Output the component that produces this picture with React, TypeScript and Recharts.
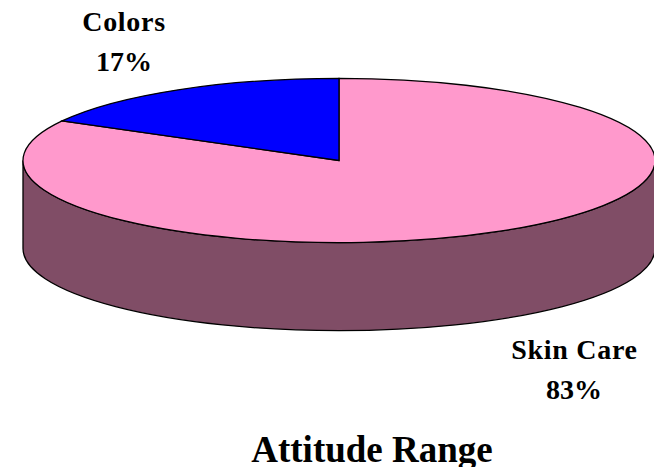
import { Pie, PieChart } from 'recharts'

const categories = ['Skin Care', 'Colors']
const shares = [83, 17]
const topColors = ['#FF99CC', '#0000FF']
const wallColors = ['#804D66', '#000080']

const chartData = categories.map((name, i) => ({
  name,
  value: shares[i],
  fill: topColors[i],
  wall: wallColors[i],
}))

// Recharts has no 3D pie: squash the circle and extrude it by hand
const SQUASH = 0.26
const DEPTH = 88

type SectorProps = {
  cx: number
  cy: number
  outerRadius: number
  startAngle: number
  endAngle: number
  fill: string
  payload: { wall: string }
}

const pointAt = (p: SectorProps, deg: number, dy = 0) => {
  const rad = (deg * Math.PI) / 180
  return {
    x: p.cx + p.outerRadius * Math.cos(rad),
    y: p.cy - p.outerRadius * SQUASH * Math.sin(rad) + dy,
  }
}

function TopSector(props: unknown) {
  const p = props as SectorProps
  const rx = p.outerRadius
  const ry = rx * SQUASH
  const a = pointAt(p, p.startAngle)
  const b = pointAt(p, p.endAngle)
  const large = Math.abs(p.endAngle - p.startAngle) > 180 ? 1 : 0
  return (
    <path
      d={`M${p.cx},${p.cy} L${a.x},${a.y} A${rx},${ry} 0 ${large} 1 ${b.x},${b.y} Z`}
      fill={p.fill}
      stroke="#000"
      strokeWidth={1.3}
    />
  )
}

// Only the front half of the rim (180..360 degrees) can be seen
function WallSector(props: unknown) {
  const p = props as SectorProps
  const rx = p.outerRadius
  const ry = rx * SQUASH
  const hi = p.startAngle
  const lo = p.endAngle
  // the big slice holds the whole front rim, the small one is at the back
  const holdsFront = [180, -180].some((v) => v <= hi && v >= lo) && hi - lo > 180
  if (!holdsFront) return <g />
  const a = pointAt(p, 180)
  const b = pointAt(p, 360)
  const c = pointAt(p, 360, DEPTH)
  const d = pointAt(p, 180, DEPTH)
  return (
    <path
      d={`M${a.x},${a.y} A${rx},${ry} 0 0 0 ${b.x},${b.y} L${c.x},${c.y} A${rx},${ry} 0 0 1 ${d.x},${d.y} Z`}
      fill={p.payload.wall}
      stroke="#000"
      strokeWidth={1.3}
    />
  )
}

const labelStyle = {
  fontFamily: '"Liberation Serif", serif',
  fontWeight: 700,
  fontSize: 28,
  fill: '#000',
}
const nameStyle = { ...labelStyle, letterSpacing: 0.7 }

export default function App() {
  return (
    <div style={{ position: 'absolute', left: 0, top: 0, width: 654, height: 467 }}>
      <PieChart width={654} height={467} margin={{ top: 0, right: 0, bottom: 0, left: 0 }}>
        <Pie
          data={chartData}
          dataKey="value"
          cx={339}
          cy={160.5}
          outerRadius={316}
          startAngle={90}
          endAngle={-270}
          paddingAngle={0}
          isAnimationActive={false}
          shape={WallSector}
        />
        <Pie
          data={chartData}
          dataKey="value"
          cx={339}
          cy={160.5}
          outerRadius={316}
          startAngle={90}
          endAngle={-270}
          paddingAngle={0}
          isAnimationActive={false}
          shape={TopSector}
        />
        <text x={124} y={31} textAnchor="middle" style={nameStyle}>{categories[1]}</text>
        <text x={124} y={71} textAnchor="middle" style={labelStyle}>{shares[1]}%</text>
        <text x={574.5} y={359} textAnchor="middle" style={nameStyle}>{categories[0]}</text>
        <text x={574} y={399} textAnchor="middle" style={labelStyle}>{shares[0]}%</text>
        <text
          x={372}
          y={462}
          textAnchor="middle"
          style={{ ...labelStyle, fontSize: 37 }}
        >
          Attitude Range
        </text>
      </PieChart>
    </div>
  )
}
